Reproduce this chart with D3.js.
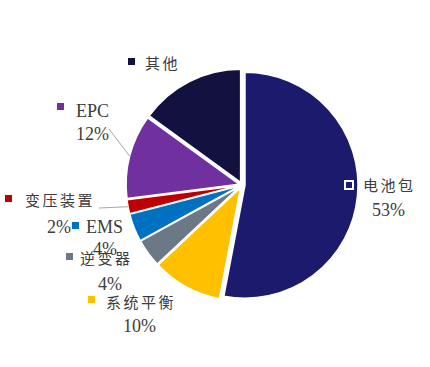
<!DOCTYPE html>
<html><head><meta charset="utf-8">
<script src="https://cdn.jsdelivr.net/npm/d3@7"></script>
<style>
html,body{margin:0;padding:0;background:#fff;}
svg{display:block;}
.cn{font-family:"Noto Sans CJK SC",sans-serif;font-size:15px;letter-spacing:2.5px;fill:#3d3d3d;}
.num{font-family:"Liberation Serif","Times New Roman",serif;font-size:18px;fill:#3d3d3d;}
</style></head>
<body>
<svg id="chart" width="430" height="367"></svg>
<script>
const categories = ["电池包","系统平衡","逆变器","EMS","变压装置","EPC","其他"];
const values = [53,10,4,4,2,12,15];
const showPct = [true,true,true,true,true,true,false];
const colors = ["#1c1a6d","#ffc000","#6b7886","#0070c0","#c00000","#7030a0","#12113f"];
// label layout: marker position, name position, percent position
const labelLayout = [
  {mx:345,my:181,nx:363,ny:191,px:372,py:216,latin:false},
  {mx:88,my:296,nx:106,ny:308,px:123,py:332,latin:false},
  {mx:66,my:253,nx:80,ny:264,px:98,py:290,latin:false},
  {mx:72,my:222,nx:86,ny:233,px:93,py:255,latin:true},
  {mx:5,my:195,nx:25,ny:206,px:47,py:233,latin:false},
  {mx:57,my:103,nx:76,ny:117,px:76,py:140,latin:true},
  {mx:128,my:58,nx:145,ny:69,px:0,py:0,latin:false}
];
const leaders = [
  {i:5, x1:109, y1:129},
  {i:4, x1:99, y1:208}
];

const svg = d3.select("#chart");
const cx = 242, cy = 185, r = 113, explode = 3;
const data = categories.map((c,i)=>({name:c,value:values[i],color:colors[i],i}));
const pie = d3.pie().sort(null).value(d=>d.value);
const arcs = pie(data);
const arc = d3.arc().innerRadius(0).outerRadius(r);

const g = svg.append("g").attr("transform",`translate(${cx},${cy})`);
g.selectAll("path").data(arcs).join("path")
  .attr("d",arc)
  .attr("fill",d=>d.data.color)
  .attr("stroke","#fff").attr("stroke-width",1.5)
  .attr("transform",d=>{
    const m=(d.startAngle+d.endAngle)/2;
    return `translate(${explode*Math.sin(m)},${-explode*Math.cos(m)})`;
  });

// leader lines
leaders.forEach(l=>{
  const a = arcs[l.i];
  const m = (a.startAngle+a.endAngle)/2;
  const x2 = cx + (r+explode)*Math.sin(m), y2 = cy - (r+explode)*Math.cos(m);
  svg.append("line").attr("x1",l.x1).attr("y1",l.y1).attr("x2",x2).attr("y2",y2)
    .attr("stroke","#a6a6a6").attr("stroke-width",1);
});

// labels
arcs.forEach((a,i)=>{
  const L = labelLayout[i];
  svg.append("rect").attr("x",L.mx).attr("y",L.my).attr("width",i===0?8:7).attr("height",i===0?8:7)
    .attr("fill",colors[i]).attr("stroke",i===0?"#fff":"none").attr("stroke-width",i===0?2:0);
  svg.append("text").attr("class",L.latin?"num":"cn").attr("x",L.nx).attr("y",L.ny).text(categories[i]);
  if(showPct[i]){
    svg.append("text").attr("class","num").attr("x",L.px).attr("y",L.py).text(values[i]+"%");
  }
});
</script>
</body></html>
